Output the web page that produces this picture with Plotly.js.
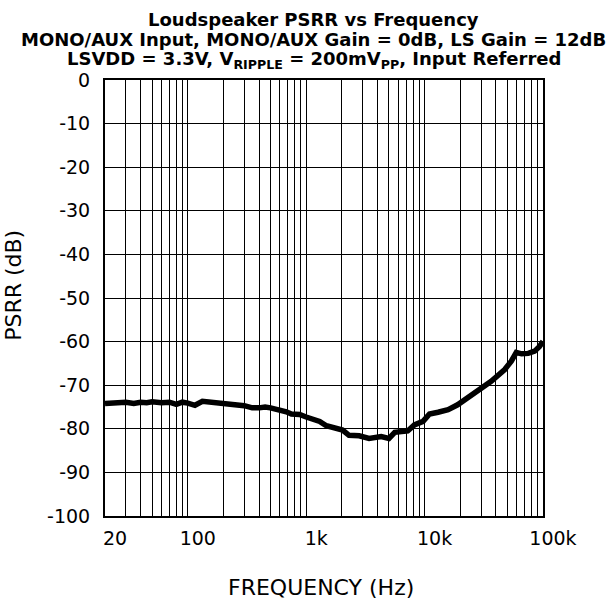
<!DOCTYPE html>
<html>
<head>
<meta charset="utf-8">
<script src="https://cdn.plot.ly/plotly-3.0.1.min.js"></script>
<style>html,body{margin:0;padding:0;background:#fff;}#chart{width:614px;height:603px;}</style>
</head>
<body>
<div id="chart"></div>
<script>
// Frequency (Hz) and PSRR (dB)
var freqHz = [20, 25, 30, 35, 40, 45, 50, 60, 70, 80, 90, 100, 115, 133, 150, 200, 250, 300, 350, 400, 450, 500, 560, 620, 680, 750, 880, 1000, 1140, 1300, 1480, 1740, 2030, 2300, 2800, 3400, 4300, 5000, 5600, 7200, 8200, 9700, 11000, 13000, 15800, 19000, 26500, 36500, 47500, 54000, 59500, 66000, 75000, 85000, 93000, 100000];
var psrrDb = [-74.2, -74.0, -73.9, -74.2, -73.9, -74.0, -73.8, -74.0, -73.9, -74.4, -73.9, -74.1, -74.6, -73.7, -73.9, -74.3, -74.5, -74.7, -75.2, -75.2, -75.0, -75.2, -75.5, -75.8, -76.1, -76.6, -76.7, -77.3, -77.8, -78.3, -79.3, -79.8, -80.3, -81.5, -81.6, -82.2, -81.8, -82.2, -80.8, -80.5, -79.1, -78.3, -76.6, -76.2, -75.6, -74.5, -71.9, -69.1, -66.4, -64.5, -62.5, -62.8, -62.7, -62.2, -61.2, -59.9];

// Axis ticks and labels
var xTickVals = [20, 100, 1000, 10000, 100000];
var xTickText = ['20', '100', '1k', '10k', '100k'];
var xMinorVals = [30,40,50,60,70,80,90,200,300,400,500,600,700,800,900,2000,3000,4000,5000,6000,7000,8000,9000,20000,30000,40000,50000,60000,70000,80000,90000];
var yTickVals = [0, -10, -20, -30, -40, -50, -60, -70, -80, -90, -100];
var yTickText = ['0', '-10', '-20', '-30', '-40', '-50', '-60', '-70', '-80', '-90', '-100'];

var titleLines = [
  'Loudspeaker PSRR vs Frequency',
  'MONO/AUX Input, MONO/AUX Gain = 0dB, LS Gain = 12dB',
  'LSVDD = 3.3V, V<sub>RIPPLE</sub> = 200mV<sub>PP</sub>, Input Referred'
];

var font = 'DejaVu Sans, Verdana, sans-serif';

var trace = {
  x: freqHz, y: psrrDb, type: 'scatter', mode: 'lines',
  line: {color: '#000', width: 5.5}, hoverinfo: 'skip'
};

var titleFont = {family: font, size: 18, color: '#000', weight: 'bold'};
var titleY = [1.139, 1.093, 1.045];
var annotations = titleLines.map(function(t, i){
  return {text: t, xref: 'paper', yref: 'paper', x: 0.477, y: titleY[i],
          xanchor: 'center', yanchor: 'middle', showarrow: false, font: titleFont};
});
annotations.push(
  {text: 'FREQUENCY (Hz)', xref: 'paper', yref: 'paper', x: 0.494, y: -0.165,
   xanchor: 'center', yanchor: 'middle', showarrow: false,
   font: {family: font, size: 22, color: '#000'}},
  {text: 'PSRR (dB)', xref: 'paper', yref: 'paper', x: -0.208, y: 0.53,
   xanchor: 'center', yanchor: 'middle', textangle: -90, showarrow: false,
   font: {family: font, size: 22, color: '#000'}}
);

var layout = {
  width: 614, height: 603,
  margin: {l: 105, r: 71, t: 80, b: 87},
  paper_bgcolor: '#fff', plot_bgcolor: '#fff',
  showlegend: false,
  font: {family: font, color: '#000', size: 19},
  xaxis: {
    type: 'log',
    range: [Math.log10(20), Math.log10(100000)],
    tickmode: 'array', tickvals: xTickVals, ticktext: xTickText,
    ticks: '', ticklabelshift: 10, ticklabelstandoff: 4,
    showgrid: true, gridcolor: '#000', gridwidth: 1,
    minor: {tickmode: 'array', tickvals: xMinorVals, ticks: '',
            showgrid: true, gridcolor: '#000', gridwidth: 1},
    showline: true, linecolor: '#000', linewidth: 2, mirror: true,
    zeroline: false,
    tickfont: {family: font, size: 19, color: '#000'}
  },
  yaxis: {
    range: [-100, 0],
    tickmode: 'array', tickvals: yTickVals, ticktext: yTickText,
    ticks: '', ticklabelstandoff: 9,
    showgrid: true, gridcolor: '#000', gridwidth: 1,
    showline: true, linecolor: '#000', linewidth: 2, mirror: true,
    zeroline: false,
    tickfont: {family: font, size: 19, color: '#000'}
  },
  annotations: annotations
};

Plotly.newPlot('chart', [trace], layout, {staticPlot: true, displayModeBar: false});
</script>
</body>
</html>
